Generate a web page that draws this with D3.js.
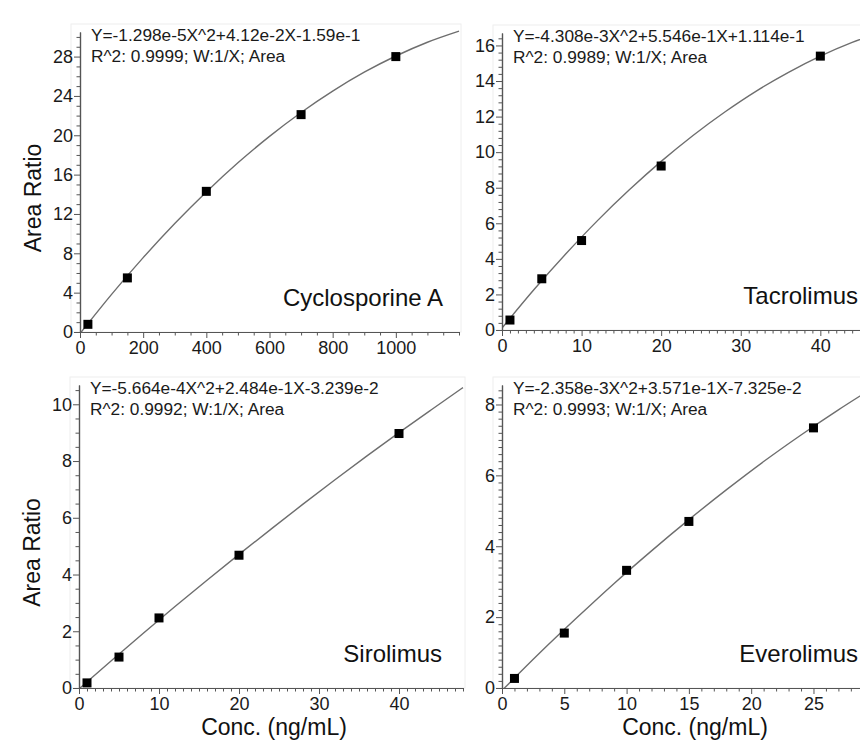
<!DOCTYPE html>
<html><head><meta charset="utf-8">
<script src="https://cdn.jsdelivr.net/npm/d3@7"></script>
<style>
html,body{margin:0;padding:0;background:#fff;}
svg{display:block;font-family:"Liberation Sans",Arial,sans-serif;}
</style></head>
<body>
<svg id="c" width="860" height="743"></svg>
<script>
// ---------- data ----------
const names = ["Cyclosporine A", "Tacrolimus", "Sirolimus", "Everolimus"];
const equations = [
  "Y=-1.298e-5X^2+4.12e-2X-1.59e-1",
  "Y=-4.308e-3X^2+5.546e-1X+1.114e-1",
  "Y=-5.664e-4X^2+2.484e-1X-3.239e-2",
  "Y=-2.358e-3X^2+3.571e-1X-7.325e-2"
];
const stats = [
  "R^2: 0.9999; W:1/X; Area",
  "R^2: 0.9989; W:1/X; Area",
  "R^2: 0.9992; W:1/X; Area",
  "R^2: 0.9993; W:1/X; Area"
];
// calibrator points (Conc., Area Ratio)
const cyaConc = [25, 150, 400, 700, 1000];
const cyaRatio = [0.78, 5.5, 14.3, 22.1, 28.0];
const tacConc = [1, 5, 10, 20, 40];
const tacRatio = [0.56, 2.88, 5.03, 9.22, 15.4];
const sirConc = [1, 5, 10, 20, 40];
const sirRatio = [0.18, 1.09, 2.47, 4.68, 8.97];
const eveConc = [1, 5, 10, 15, 25];
const eveRatio = [0.27, 1.55, 3.32, 4.70, 7.34];
// fitted curves
const cyaCurveX = [0, 100, 200, 300, 400, 500, 600, 700, 800, 900, 1000, 1100, 1200];
const cyaCurveY = [-0.16, 3.83, 7.56, 11.03, 14.24, 17.20, 19.89, 22.32, 24.49, 26.41, 28.06, 29.46, 30.59];
const tacCurveX = [0, 4, 8, 12, 16, 20, 24, 28, 32, 36, 40, 44, 48];
const tacCurveY = [0.11, 2.26, 4.27, 6.15, 7.88, 9.48, 10.94, 12.26, 13.45, 14.49, 15.40, 16.17, 16.81];
const sirCurveX = [0, 4, 8, 12, 16, 20, 24, 28, 32, 36, 40, 44, 48];
const sirCurveY = [-0.03, 0.95, 1.92, 2.87, 3.80, 4.71, 5.60, 6.48, 7.34, 8.18, 9.00, 9.80, 10.59];
const eveCurveX = [0, 3, 6, 9, 12, 15, 18, 21, 24, 27, 30];
const eveCurveY = [-0.07, 0.98, 1.98, 2.95, 3.87, 4.75, 5.59, 6.39, 7.14, 7.85, 8.52];
// axes
const xDomains = [[0, 1200], [0, 48], [0, 48], [0, 30.5]];
const yDomains = [[0, 30.5], [0, 16.7], [0, 10.68], [0, 8.55]];
const xMajor = [[0, 200, 400, 600, 800, 1000], [0, 10, 20, 30, 40], [0, 10, 20, 30, 40], [0, 5, 10, 15, 20, 25]];
const xMinorStep = [50, 1, 1, 1];
const yMajor = [[0, 4, 8, 12, 16, 20, 24, 28], [0, 2, 4, 6, 8, 10, 12, 14, 16], [0, 2, 4, 6, 8, 10], [0, 2, 4, 6, 8]];
const yMinorStep = [1, 0.4, 0.5, 0.2];
const yTitle = "Area Ratio";
const xTitle = "Conc. (ng/mL)";

// ---------- layout ----------
const boxes = [
  {x0: 80, x1: 459, y0: 332, y1: 32},
  {x0: 502, x1: 884, y0: 330, y1: 33},
  {x0: 79, x1: 463, y0: 688, y1: 385},
  {x0: 502, x1: 882, y0: 688, y1: 385}
];
const nameRight = [443, 858, 442, 858];
const pts = [[cyaConc, cyaRatio], [tacConc, tacRatio], [sirConc, sirRatio], [eveConc, eveRatio]];
const curves = [[cyaCurveX, cyaCurveY], [tacCurveX, tacCurveY], [sirCurveX, sirCurveY], [eveCurveX, eveCurveY]];

const svg = d3.select("#c");
const axisCol = "#555";

function range(a, b, s) { const r = []; for (let i = 0; a + i * s <= b + 1e-9; i++) r.push(+(a + i * s).toFixed(6)); return r; }

boxes.forEach((b, i) => {
  const x = d3.scaleLinear().domain(xDomains[i]).range([b.x0, b.x1]);
  const y = d3.scaleLinear().domain(yDomains[i]).range([b.y0, b.y1]);
  const g = svg.append("g");

  // faint panel frame
  g.append("rect").attr("x", b.x0 - 9).attr("y", b.y1 - 8)
    .attr("width", b.x1 - b.x0 + 11).attr("height", b.y0 - b.y1 + 8)
    .attr("fill", "none").attr("stroke", "#eeeeee").attr("stroke-width", 1);

  const clipId = "clip" + i;
  g.append("clipPath").attr("id", clipId).append("rect")
    .attr("x", b.x0).attr("y", b.y1 - 2).attr("width", b.x1 - b.x0 + 2).attr("height", b.y0 - b.y1 + 2);

  // curve
  const cx = curves[i][0], cy = curves[i][1];
  const line = d3.line().x(d => x(d[0])).y(d => y(d[1])).curve(d3.curveMonotoneX);
  g.append("path").datum(cx.map((v, k) => [v, cy[k]]))
    .attr("d", line).attr("fill", "none").attr("stroke", "#6e6e6e").attr("stroke-width", 1.4)
    .attr("clip-path", "url(#" + clipId + ")");

  // minor ticks
  const xMinor = range(xDomains[i][0], xDomains[i][1], xMinorStep[i]).filter(v => !xMajor[i].includes(v));
  const yMinor = range(yDomains[i][0], yDomains[i][1], yMinorStep[i]).filter(v => !yMajor[i].some(m => Math.abs(m - v) < 1e-6));
  const fmt = d3.format("d");

  const xa = g.append("g").attr("transform", `translate(0,${b.y0})`);
  xa.call(d3.axisBottom(x).tickValues(xMinor).tickSize(3.5).tickSizeOuter(0).tickFormat(""));
  xa.append("g").call(d3.axisBottom(x).tickValues(xMajor[i]).tickSize(6).tickSizeOuter(0).tickFormat(fmt));
  const ya = g.append("g").attr("transform", `translate(${b.x0},0)`);
  ya.call(d3.axisLeft(y).tickValues(yMinor).tickSize(3.5).tickSizeOuter(0).tickFormat(""));
  ya.append("g").call(d3.axisLeft(y).tickValues(yMajor[i]).tickSize(6).tickSizeOuter(0).tickFormat(fmt));

  g.selectAll(".domain").attr("stroke", axisCol).attr("stroke-width", 1.2);
  g.selectAll(".tick line").attr("stroke", axisCol);
  g.selectAll(".tick text").attr("fill", "#1a1a1a").attr("font-size", 18)
    .attr("font-family", '"Liberation Sans",Arial,sans-serif');
  xa.selectAll(".tick text").attr("y", 9);
  ya.selectAll(".tick text").attr("x", -7);

  // points
  const px = pts[i][0], py = pts[i][1];
  g.selectAll("rect.pt").data(px.map((v, k) => [v, py[k]])).enter().append("rect")
    .attr("class", "pt").attr("x", d => x(d[0]) - 4.5).attr("y", d => y(d[1]) - 4.5)
    .attr("width", 9).attr("height", 9).attr("fill", "#000");

  // equation
  g.append("text").attr("x", b.x0 + 11).attr("y", b.y1 + 9).attr("font-size", 17.3)
    .attr("fill", "#1a1a1a").text(equations[i]);
  g.append("text").attr("x", b.x0 + 11).attr("y", b.y1 + 30).attr("font-size", 17.3)
    .attr("fill", "#1a1a1a").text(stats[i]);

  // compound name
  g.append("text").attr("x", nameRight[i]).attr("y", b.y0 - 26).attr("text-anchor", "end")
    .attr("font-size", 24).attr("fill", "#111").text(names[i]);

  // axis titles
  if (i % 2 === 0) {
    const cyM = (b.y0 + b.y1) / 2 + 16;
    g.append("text").attr("transform", `translate(${b.x0 - 39},${cyM}) rotate(-90)`)
      .attr("text-anchor", "middle").attr("font-size", 23).attr("fill", "#111").text(yTitle);
  }
  if (i >= 2) {
    g.append("text").attr("x", (b.x0 + b.x1) / 2 + 3).attr("y", 735).attr("text-anchor", "middle")
      .attr("font-size", 23).attr("fill", "#111").text(xTitle);
  }
});
</script>
</body></html>
